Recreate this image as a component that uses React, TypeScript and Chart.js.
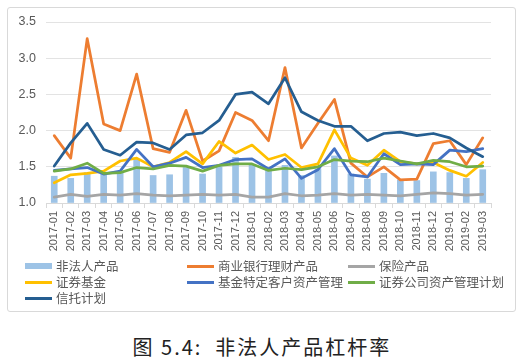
import React, { useEffect, useRef } from "react";
import { Chart, registerables } from "chart.js";

Chart.register(...registerables);

const categories = [
  "2017-01", "2017-02", "2017-03", "2017-04", "2017-05", "2017-06", "2017-07", "2017-08", "2017-09",
  "2017-10", "2017-11", "2017-12", "2018-01", "2018-02", "2018-03", "2018-04", "2018-05", "2018-06",
  "2018-07", "2018-08", "2018-09", "2018-10", "2018-11", "2018-12", "2019-01", "2019-02", "2019-03",
];

const feifarenProducts = [
  1.37, 1.34, 1.42, 1.40, 1.41, 1.60, 1.38, 1.39, 1.49, 1.40, 1.50, 1.63, 1.52, 1.46,
  1.52, 1.38, 1.47, 1.65, 1.40, 1.33, 1.41, 1.32, 1.31, 1.43, 1.42, 1.34, 1.46,
];
const bankWealth = [
  1.93, 1.62, 3.27, 2.09, 2.00, 2.78, 1.75, 1.70, 2.28, 1.58, 1.72, 2.25, 2.14, 1.86,
  2.87, 1.76, 2.10, 2.43, 1.55, 1.36, 1.50, 1.32, 1.33, 1.82, 1.86, 1.53, 1.90,
];
const insurance = [
  1.08, 1.12, 1.09, 1.12, 1.11, 1.13, 1.11, 1.10, 1.11, 1.12, 1.11, 1.12, 1.08, 1.08,
  1.13, 1.10, 1.11, 1.13, 1.11, 1.12, 1.11, 1.10, 1.12, 1.14, 1.13, 1.11, 1.12,
];
const securitiesFunds = [
  1.28, 1.39, 1.41, 1.44, 1.58, 1.62, 1.50, 1.56, 1.71, 1.54, 1.85, 1.69, 1.80, 1.60,
  1.67, 1.49, 1.54, 2.01, 1.62, 1.52, 1.73, 1.57, 1.54, 1.56, 1.45, 1.37, 1.56,
];
const fundSpecialClient = [
  1.45, 1.47, 1.49, 1.40, 1.44, 1.74, 1.50, 1.55, 1.63, 1.49, 1.52, 1.60, 1.61, 1.47,
  1.61, 1.34, 1.46, 1.75, 1.39, 1.36, 1.68, 1.53, 1.54, 1.53, 1.73, 1.71, 1.75,
];
const brokerAssetMgmt = [
  1.44, 1.47, 1.55, 1.41, 1.42, 1.49, 1.47, 1.52, 1.51, 1.44, 1.52, 1.54, 1.54, 1.45,
  1.48, 1.46, 1.50, 1.60, 1.58, 1.57, 1.62, 1.58, 1.54, 1.59, 1.57, 1.50, 1.51,
];
const trustPlans = [
  1.51, 1.83, 2.10, 1.74, 1.66, 1.84, 1.83, 1.74, 1.94, 1.97, 2.14, 2.50, 2.53, 2.37,
  2.73, 2.26, 2.14, 2.06, 2.06, 1.86, 1.96, 1.98, 1.93, 1.96, 1.90, 1.76, 1.64,
];

const yTicks = [1.0, 1.5, 2.0, 2.5, 3.0, 3.5];

const seriesNames = [
  "非法人产品",
  "商业银行理财产品",
  "保险产品",
  "证券基金",
  "基金特定客户资产管理",
  "证券公司资产管理计划",
  "信托计划",
];
const seriesColors = ["#9DC3E6", "#ED7D31", "#A5A5A5", "#FFC000", "#4472C4", "#70AD47", "#255E91"];

const titleText = "图 5.4:  非法人产品杠杆率";

export default function App() {
  const canvasRef = useRef<HTMLCanvasElement | null>(null);

  useEffect(() => {
    if (!canvasRef.current) return;
    const lineData = [bankWealth, insurance, securitiesFunds, fundSpecialClient, brokerAssetMgmt, trustPlans];
    const lineOrders = [6, 5, 4, 3, 2, 1];
    const datasets: any[] = [
      {
        type: "bar",
        label: seriesNames[0],
        data: feifarenProducts,
        backgroundColor: seriesColors[0],
        barThickness: 6,
        base: 1,
        order: 10,
      },
      ...lineData.map((d, i) => ({
        type: "line",
        label: seriesNames[i + 1],
        data: d,
        borderColor: seriesColors[i + 1],
        backgroundColor: seriesColors[i + 1],
        borderWidth: 2.75,
        pointRadius: 0,
        tension: 0,
        borderJoinStyle: "round",
        borderCapStyle: "round",
        fill: false,
        order: lineOrders[i],
      })),
    ];
    const chart = new Chart(canvasRef.current, {
      type: "bar",
      data: { labels: categories, datasets },
      options: {
        animation: false,
        responsive: false,
        maintainAspectRatio: false,
        layout: { padding: { left: 0, top: 22, right: 33, bottom: 0 } },
        plugins: { legend: { display: false }, tooltip: { enabled: false } },
        scales: {
          x: {
            offset: true,
            grid: {
              display: true,
              offset: true,
              drawOnChartArea: false,
              drawTicks: true,
              tickLength: 5,
              color: "#D9D9D9",
            },
            border: { display: true, color: "#D9D9D9" },
            ticks: {
              autoSkip: false,
              maxRotation: 90,
              minRotation: 90,
              padding: 3,
              color: "#595959",
              font: { family: "'Liberation Sans', Arial, sans-serif", size: 11 },
            },
            afterFit: (scale: any) => {
              scale.height = 55;
            },
          },
          y: {
            min: yTicks[0],
            max: yTicks[yTicks.length - 1],
            afterBuildTicks: (scale: any) => {
              scale.ticks = yTicks.map((v) => ({ value: v }));
            },
            grid: { color: "#E3E3E3", drawTicks: false, lineWidth: 1 },
            border: { display: false },
            ticks: {
              padding: 10,
              color: "#595959",
              font: { family: "'Liberation Sans', Arial, sans-serif", size: 12.5 },
              callback: (v: any) => Number(v).toFixed(1),
            },
            afterFit: (scale: any) => {
              scale.width = 46;
            },
          },
        },
      },
    });
    return () => chart.destroy();
  }, []);

  return (
    <div style={{ position: "absolute", left: 0, top: 0, width: 524, height: 362, background: "#fff" }}>
      <div
        style={{
          position: "absolute",
          left: 7,
          top: 7,
          width: 509,
          height: 305,
          border: "1px solid #D9D9D9",
          borderRadius: 3,
          boxSizing: "border-box",
        }}
      />
      <canvas
        ref={canvasRef}
        width={524}
        height={258}
        style={{ position: "absolute", left: 0, top: 0, width: 524, height: 258 }}
      />
      <div
        style={{
          position: "absolute",
          left: 25,
          top: 258,
          display: "grid",
          gridTemplateColumns: "162px 161px 170px",
          gridAutoRows: "16px",
          fontFamily: "'Noto Sans CJK SC', sans-serif",
          fontSize: 12.5,
          color: "#595959",
        }}
      >
        {seriesNames.map((name, i) => (
          <div key={name} style={{ display: "flex", alignItems: "center", whiteSpace: "nowrap" }}>
            <span
              style={{
                display: "inline-block",
                width: 27,
                height: i === 0 ? 6 : 3,
                background: seriesColors[i],
                marginRight: 4,
                flex: "none",
              }}
            />
            <span style={{ lineHeight: "16px" }}>{name}</span>
          </div>
        ))}
      </div>
      <div
        style={{
          position: "absolute",
          left: 0,
          top: 336,
          width: 524,
          textAlign: "center",
          whiteSpace: "pre",
          fontFamily: "'Noto Sans CJK SC', sans-serif",
          fontSize: 20,
          lineHeight: "22px",
          letterSpacing: 2,
          color: "#222",
        }}
      >
        {titleText}
      </div>
    </div>
  );
}
